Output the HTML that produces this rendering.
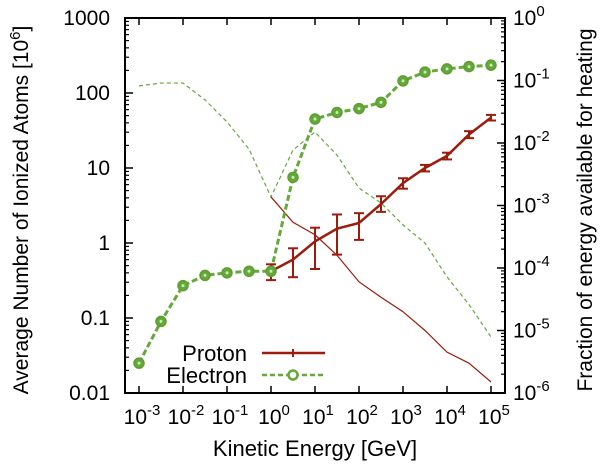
<!DOCTYPE html>
<html><head><meta charset="utf-8"><style>
html,body{margin:0;padding:0;background:#fff;}
svg{display:block;font-family:"Liberation Sans",sans-serif;}
</style></head><body>
<svg id="chart" width="600" height="466" viewBox="0 0 600 466" xmlns="http://www.w3.org/2000/svg">
<g id="marks"></g>
<rect x="125" y="18" width="380" height="375" fill="none" stroke="#000" stroke-width="2"/>
<g id="axes"></g>
<text x="315" y="456" font-size="22" text-anchor="middle">Kinetic Energy [GeV]</text>
<text transform="translate(28,210) rotate(-90)" font-size="21" text-anchor="middle">Average Number of Ionized Atoms [10<tspan dy="-8" font-size="15">6</tspan><tspan dy="8">]</tspan></text>
<text transform="translate(592,210) rotate(-90)" font-size="21" text-anchor="middle">Fraction of energy available for heating</text>
<g>
<text x="247" y="361" font-size="22" text-anchor="end">Proton</text>
<line x1="262" y1="353" x2="325" y2="353" stroke="#9b1c0c" stroke-width="2.5"/>
<line x1="293" y1="349" x2="293" y2="357" stroke="#9b1c0c" stroke-width="2"/>
<text x="247" y="383" font-size="22" text-anchor="end">Electron</text>
<line x1="262" y1="375" x2="325" y2="375" stroke="#66a83a" stroke-width="2.5" stroke-dasharray="5,3"/>
<circle cx="293" cy="375" r="4.5" fill="#fff" stroke="#66a83a" stroke-width="2.5"/>
</g>
</svg>
<script>
const xExp = [-3,-2.5,-2,-1.5,-1,-0.5,0,0.5,1,1.5,2,2.5,3,3.5,4,4.5,5];
const electronCounts = [0.025,0.09,0.27,0.37,0.40,0.42,0.42,7.5,45,55,62,75,145,190,210,225,235];
const protonExp = [0,0.5,1,1.5,2,2.5,3,3.5,4,4.5,5];
const protonCounts = [0.42,0.6,1.05,1.55,1.85,3.3,6.3,10,14.5,28,47];
const protonLow = [0.32,0.35,0.45,0.7,1.1,2.6,5.3,9,13,25,43];
const protonHigh = [0.52,0.85,1.6,2.4,2.5,4.2,7.3,11,16,31,51];
const electronFraction = [0.082,0.091,0.091,0.049,0.0217,0.008,0.00137,0.0077,0.015,0.0064,0.0019,0.0011,0.00049,0.00025,0.000072,0.000026,0.0000079];
const electronFracExp = [-3,-2.5,-2,-1.5,-1,-0.5,0,0.5,1,1.5,2,2.5,3,3.5,4,4.5,5];
const protonFraction = [0.00137,0.00054,0.00034,0.00016,0.00006,0.000034,0.00002,0.00001,0.0000045,0.000003,0.0000015];
const yTicks = ["0.01","0.1","1","10","100","1000"];
const y2Exps = [-6,-5,-4,-3,-2,-1,0];
const xTickExps = [-3,-2,-1,0,1,2,3,4,5];

const NS="http://www.w3.org/2000/svg";
const X0=139, DX=44, YB=393, DY=75, YT2=18, DY2=62.5;
const xs=e=>X0+(e+3)*DX;
const ys=v=>YB-(Math.log10(v)+2)*DY;
const ys2=v=>YT2-Math.log10(v)*DY2;
const marks=document.getElementById('marks'), axes=document.getElementById('axes');
function mk(tag,at,parent){const el=document.createElementNS(NS,tag);for(const k in at)el.setAttribute(k,at[k]);parent.appendChild(el);return el;}

xTickExps.forEach(e=>{
  const x=xs(e);
  const t=mk('line',{x1:x,y1:YB,x2:x,y2:YB-7,stroke:'#000','stroke-width':1.5},axes);
  
  
  mk('line',{x1:x,y1:18,x2:x,y2:25,stroke:'#000','stroke-width':1.5},axes);
  const tx=mk('text',{x:x+3,y:424,'font-size':21,'text-anchor':'middle'},axes);
  
  
  tx.textContent='10';
  const sp=mk('tspan',{dy:-9,'font-size':15},tx);sp.textContent=String(e);
});
yTicks.forEach((lab,i)=>{
  const v=parseFloat(lab), y=ys(v);
  mk('line',{x1:125,y1:y,x2:133,y2:y,stroke:'#000','stroke-width':1.5},axes);
  if(i<yTicks.length-1){for(let m=2;m<10;m++){const yy=ys(v*m);mk('line',{x1:125,y1:yy,x2:129,y2:yy,stroke:'#000','stroke-width':1.2},axes);}}
  const t=mk('text',{x:110,y:y+7,'font-size':21,'text-anchor':'end'},axes);
  
  
  t.textContent=lab;
});
y2Exps.forEach((e,i)=>{
  const y=ys2(Math.pow(10,e));
  mk('line',{x1:505,y1:y,x2:497,y2:y,stroke:'#000','stroke-width':1.5},axes);
  if(i<y2Exps.length-1){for(let m=2;m<10;m++){const yy=ys2(m*Math.pow(10,e));mk('line',{x1:505,y1:yy,x2:501,y2:yy,stroke:'#000','stroke-width':1.2},axes);}}
  const t=mk('text',{x:513,y:y+7,'font-size':21},axes);
  
  
  t.textContent='10';
  const sp=mk('tspan',{dy:-9,'font-size':15},t);sp.textContent=String(e);
});
function poly(xsArr,ysArr,attrs,name){
  const p=mk('polyline',Object.assign({fill:'none',points:xsArr.map((x,i)=>x+','+ysArr[i]).join(' ')},attrs),marks);
  
  
}
poly(electronFracExp.map(xs),electronFraction.map(ys2),{stroke:'#66a83a','stroke-width':1.2,'stroke-dasharray':'4,3'},'electron-fraction-line');
poly(protonExp.map(xs),protonFraction.map(ys2),{stroke:'#9b1c0c','stroke-width':1.2},'proton-fraction-line');
poly(xExp.map(xs),electronCounts.map(ys),{stroke:'#66a83a','stroke-width':3,'stroke-dasharray':'6,3'},'electron-line');
poly(protonExp.map(xs),protonCounts.map(ys),{stroke:'#9b1c0c','stroke-width':2.5},'proton-line');
protonExp.forEach((e,i)=>{
  const x=xs(e), y1=ys(protonLow[i]), y2=ys(protonHigh[i]);
  const g=mk('g',{stroke:'#9b1c0c','stroke-width':2},marks);
  
  
  mk('line',{x1:x,y1:y1,x2:x,y2:y2},g);
  mk('line',{x1:x-5,y1:y1,x2:x+5,y2:y1},g);
  mk('line',{x1:x-5,y1:y2,x2:x+5,y2:y2},g);
});
xExp.forEach((e,i)=>{
  const c=mk('circle',{cx:xs(e),cy:ys(electronCounts[i]),r:5,fill:'#66a83a',stroke:'#5d9e33','stroke-width':1.5},marks);
  
  
  mk('circle',{cx:xs(e),cy:ys(electronCounts[i]),r:1.5,fill:'#cfe8b8'},marks);
});
</script>
</body></html>
